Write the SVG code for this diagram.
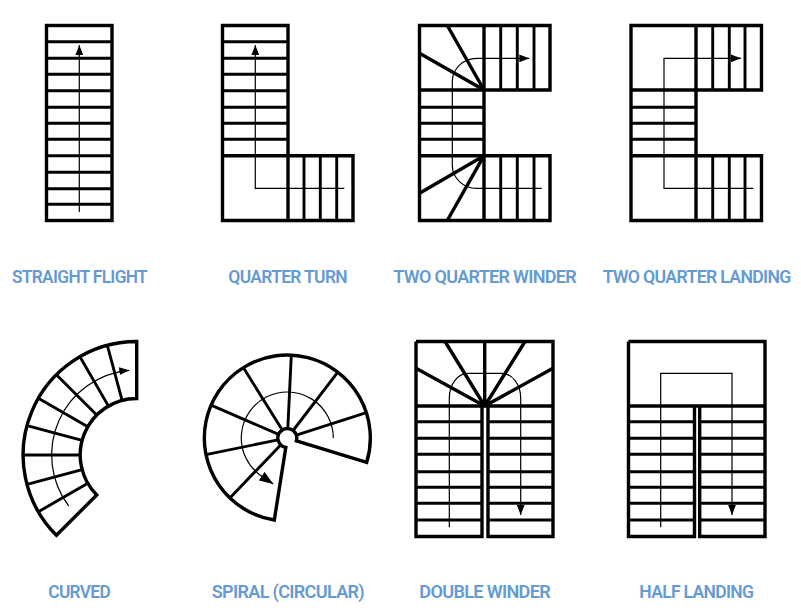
<svg xmlns="http://www.w3.org/2000/svg" width="801" height="616" viewBox="0 0 801 616">
<style>
.o{fill:none;stroke:#000;stroke-width:3.4;stroke-linejoin:miter}
.t{fill:none;stroke:#000;stroke-width:2.9}
.a{fill:none;stroke:#000;stroke-width:1.2}
.l{font-family:Roboto,"Liberation Sans",sans-serif;font-weight:600;font-size:18.3px;letter-spacing:-.7px;fill:#659ad2}
</style>
<defs>
<marker id="ah" markerUnits="userSpaceOnUse" markerWidth="10" markerHeight="8" refX="9" refY="3.5" orient="auto" viewBox="0 0 9 7"><path d="M0 0L9 3.5L0 7Z" fill="#000"/></marker>
<marker id="ahb" markerUnits="userSpaceOnUse" markerWidth="14" markerHeight="11" refX="13" refY="4.75" orient="auto" viewBox="0 0 13 9.5"><path d="M0 0L13 4.75L0 9.5Z" fill="#000"/></marker>
</defs>
<rect width="801" height="616" fill="#fff"/>
<g id="straight-flight">
<path class="t" d="M46 41.7H112M46 58.3H112M46 74.3H112M46 90.7H112M46 107.3H112M46 123.3H112M46 139.3H112M46 155.7H112M46 172.3H112M46 188.7H112M46 204.3H112"/>
<rect class="o" x="46.5" y="25.5" width="65.5" height="195"/>
<text class="l" x="12" y="283" textLength="135" lengthAdjust="spacingAndGlyphs">STRAIGHT FLIGHT</text>
</g>
<g id="quarter-turn">
<path class="t" d="M222.5 41.7H288M222.5 58.3H288M222.5 74.3H288M222.5 90.7H288M222.5 107.3H288M222.5 123.3H288M222.5 139.3H288M304 155.7V220.5M320.3 155.7V220.5M336.7 155.7V220.5"/>
<path class="o" d="M222.5 25.5H288V155.7H353V220.5H222.5ZM222.5 155.7H288V220.5"/>
<text class="l" x="228.3" y="283" textLength="118.7" lengthAdjust="spacingAndGlyphs">QUARTER TURN</text>
</g>
<g id="two-quarter-winder">
<path class="t" d="M419.5 107.3H484M419.5 123.3H484M419.5 139.3H484M500.7 25.5V90M517.3 25.5V90M534 25.5V90M500.7 155.7V220.5M517.3 155.7V220.5M534 155.7V220.5"/>
<path class="o" d="M484 90L447.3 25.5M484 90L419.5 53.3M484 155.7L419.5 193.3M484 155.7L447.3 220.5"/>
<path class="o" d="M419.5 25.5H550V90H484V155.7H550V220.5H419.5ZM419.5 90H484V25.5M419.5 155.7H484V220.5"/>
<text class="l" x="393.3" y="283" textLength="182.7" lengthAdjust="spacingAndGlyphs">TWO QUARTER WINDER</text>
</g>
<g id="two-quarter-landing">
<path class="t" d="M631 107.3H696M631 123.3H696M631 139.3H696M712.7 25.5V90M729.3 25.5V90M745 25.5V90M712.7 155.7V220.5M729.3 155.7V220.5M745 155.7V220.5"/>
<path class="o" d="M631 25.5H761.5V90H696V155.7H761.5V220.5H631ZM631 90H696V25.5M631 155.7H696V220.5"/>
<text class="l" x="602.7" y="283" textLength="188" lengthAdjust="spacingAndGlyphs">TWO QUARTER LANDING</text>
</g>
<g id="curved">
<path class="t" d="M107.3 345.4L122.1 400.4M79.95 356.7L108.45 406.1M56.4 374.7L96.75 415.05M38.4 398.25L87.8 426.75M27.1 425.6L82.1 440.4M23.2 455H80.2M27.1 484.4L82.1 469.6M38.4 511.75L87.8 483.25"/>
<path class="o" d="M136.7 341.5A113.5 113.5 0 0 0 56.4 535.3L96.75 494.95A56.5 56.5 0 0 1 136.7 398.5Z"/>
<text class="l" x="48.3" y="598" textLength="61.7" lengthAdjust="spacingAndGlyphs">CURVED</text>
</g>
<g id="spiral-circular">
<path class="t" d="M366.4 412.7L296.3 435.1M337.8 372.1L293.1 430.5M291.3 355.1L287.8 428.5M243.3 367.6L282.3 429.9M211 405.2L278.6 434.3M206 454.6L278 439.9M229.9 498L280.7 444.9"/>
<path class="o" d="M285.8 447.4L274.3 520A83 83 0 1 1 366.7 462.3L296.4 440.8A9.5 9.5 0 1 0 285.8 447.4Z"/>
<text class="l" x="211.7" y="598" textLength="152.3" lengthAdjust="spacingAndGlyphs">SPIRAL (CIRCULAR)</text>
</g>
<g id="double-winder">
<path class="t" d="M416 421.7H482M416 438.3H482M416 454.3H482M416 471.7H482M416 487.3H482M416 503.3H482M416 520H482M488 421.7H553M488 438.3H553M488 454.3H553M488 471.7H553M488 487.3H553M488 503.3H553M488 520H553"/>
<path class="o" d="M484.7 406L445 341.5M484.7 406L525 341.5M484.7 406L416 368.3M484.7 406L553 368.3M484.7 341.5V406"/>
<path class="o" d="M416 341.5H553V536.5H488V406M482 406V536.5H416V341.5M416 406H553"/>
<text class="l" x="419.3" y="598" textLength="130.7" lengthAdjust="spacingAndGlyphs">DOUBLE WINDER</text>
</g>
<g id="half-landing">
<path class="t" d="M628.5 421.7H694.5M628.5 438.3H694.5M628.5 454.3H694.5M628.5 471.7H694.5M628.5 487.3H694.5M628.5 503.3H694.5M628.5 520H694.5M699.7 421.7H765M699.7 438.3H765M699.7 454.3H765M699.7 471.7H765M699.7 487.3H765M699.7 503.3H765M699.7 520H765"/>
<path class="o" d="M628.5 341.5H765V536.5H699.7V406M694.5 406V536.5H628.5V341.5M628.5 406H765"/>
<text class="l" x="639.3" y="598" textLength="114" lengthAdjust="spacingAndGlyphs">HALF LANDING</text>
</g>
<g id="connectors">
<path class="a" marker-end="url(#ah)" d="M79.3 212V45"/>
<path class="a" marker-end="url(#ah)" d="M344.3 188.3H255.3V45"/>
<path class="a" marker-end="url(#ah)" d="M541.7 188.3H476.7A24.4 23 0 0 1 452.3 165.3V81.7A24.4 23.4 0 0 1 476.7 58.3H529.3"/>
<path class="a" marker-end="url(#ah)" d="M753.3 188.3H664V58.3H741"/>
<path class="a" marker-end="url(#ah)" d="M68.8 506.2A85 85 0 0 1 129.3 370.3"/>
<path class="a" marker-end="url(#ahb)" d="M333.3 438A46 46 0 1 0 259.6 474.7L273.3 484"/>
<path class="a" marker-end="url(#ah)" d="M449.3 527.3V398A18.7 24.7 0 0 1 468 373.3H501.7A19 24.7 0 0 1 520.7 398V515"/>
<path class="a" marker-end="url(#ah)" d="M660.7 527.3V373.3H732V515"/>
</g>
</svg>
